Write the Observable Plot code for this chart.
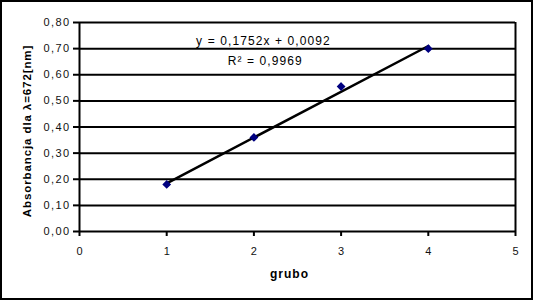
<!DOCTYPE html>
<html><head><meta charset="utf-8">
<script src="https://cdn.jsdelivr.net/npm/d3@7"></script>
<script src="https://cdn.jsdelivr.net/npm/@observablehq/plot@0.6"></script>
<style>
body{margin:0;background:#fff;}
svg{display:block;}
</style>
</head><body>
<div id="chart"></div>
<script>
const grubo = [1, 2, 3, 4];
const absorbancja = [0.18, 0.36, 0.555, 0.70];
const slope = 0.1752, intercept = 0.0092;
const eqLabel = "y = 0,1752x + 0,0092";
const r2Label = "R² = 0,9969";
const xTicks = [0, 1, 2, 3, 4, 5];
const yTicks = [0, 0.1, 0.2, 0.3, 0.4, 0.5, 0.6, 0.7, 0.8];
const xTitle = "grubo";
const yTitle = "Absorbancja dla λ=672[nm]";

const points = grubo.map((x, i) => ({x, y: absorbancja[i]}));
const trend = [grubo[0], grubo[grubo.length - 1]].map(x => ({x, y: slope * x + intercept}));
const fmt = d => d.toFixed(2).replace(".", ",");

const chart = Plot.plot({
  width: 533,
  height: 301,
  marginLeft: 79,
  marginRight: 18,
  marginTop: 22,
  marginBottom: 70,
  style: {fontFamily: "Liberation Sans, Arial, sans-serif", fontSize: "11px", color: "#000", background: "#fff"},
  x: {domain: [0, 5], ticks: xTicks},
  y: {domain: [0, 0.8], ticks: yTicks},
  marks: [
    Plot.ruleY(yTicks, {stroke: "#000", strokeWidth: 2, strokeOpacity: 1}),
    Plot.ruleX([5], {stroke: "#000", strokeWidth: 2}),
    Plot.ruleX([0], {stroke: "#000", strokeWidth: 2}),
    Plot.axisY({ticks: yTicks, tickFormat: fmt, tickSize: 6, tickPadding: 3, label: null, stroke: "#000", strokeWidth: 2, fill: "#111", fontSize: 11}),
    Plot.axisX({ticks: xTicks, tickFormat: d => String(d), tickSize: 5, tickPadding: 11, label: null, stroke: "#000", strokeWidth: 2, fill: "#111", fontSize: 11}),
    Plot.line(trend, {x: "x", y: "y", stroke: "#000", strokeWidth: 2.5}),
    Plot.dot(points, {x: "x", y: "y", symbol: "diamond2", fill: "#000080", stroke: "#000080", r: 3}),
    Plot.text([eqLabel], {x: 2.11, y: 0.727, text: d => d, fontSize: 12, fill: "#000"}),
    Plot.text([r2Label], {x: 2.13, y: 0.651, text: d => d, fontSize: 12, fill: "#000"}),
    Plot.text([xTitle], {frameAnchor: "bottom", dx: -8, dy: 46, text: d => d, fontWeight: "bold", fontSize: 12, fill: "#000"}),
    Plot.text([yTitle], {frameAnchor: "left", textAnchor: "middle", dx: -52, dy: 4, rotate: -90, text: d => d, fontWeight: "bold", fontSize: 11.5, fill: "#000"})
  ]
});
document.getElementById("chart").appendChild(chart);
const svg = d3.select(chart);
svg.selectAll('g[aria-label="y-axis tick label"] text').style("letter-spacing", "1.4px");
const textGroups = svg.selectAll('g[aria-label="text"]').nodes();
const spacings = ["1.1px", "1.1px", "1px", "0.9px"];
textGroups.forEach((g, i) => d3.select(g).selectAll("text").style("letter-spacing", spacings[i] || "0"));
svg.append("rect")
  .attr("x", 1).attr("y", 1).attr("width", 531).attr("height", 298)
  .attr("fill", "none").attr("stroke", "#000").attr("stroke-width", 2);
</script>
</body></html>
